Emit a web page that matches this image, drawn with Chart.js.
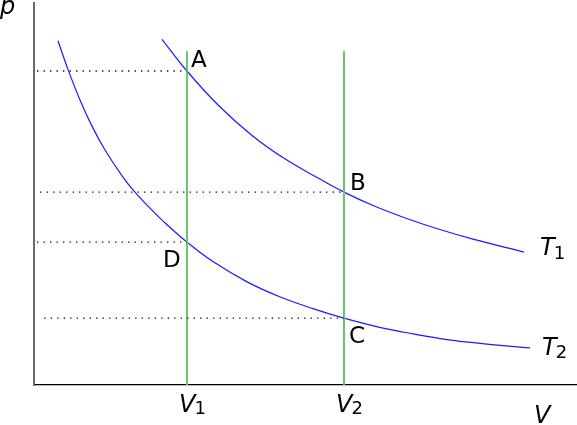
<!DOCTYPE html>
<html>
<head>
<meta charset="utf-8">
<script src="https://cdn.jsdelivr.net/npm/chart.js@4/dist/chart.umd.min.js"></script>
<style>
  html, body { margin: 0; padding: 0; background: #fff; }
  #wrap { width: 577px; height: 425px; position: relative; }
</style>
</head>
<body>
<div id="wrap"><canvas id="c"></canvas></div>
<script>
// Isotherm T1
const t1V = [2.51, 3.0, 3.61, 4.27, 4.92, 5.57, 6.08, 6.65, 7.31, 7.96, 8.61, 9.61];
const t1P = [9.05, 8.22, 7.33, 6.54, 5.92, 5.42, 5.05, 4.70, 4.36, 4.07, 3.82, 3.48];
// Isotherm T2
const t2V = [0.47, 0.67, 0.90, 1.14, 1.39, 1.73, 1.98, 2.37, 2.63, 3.0, 3.51, 4.18, 4.82, 5.47, 6.08, 6.78, 7.43, 8.10, 8.75, 9.73];
const t2P = [9.01, 8.25, 7.47, 6.77, 6.16, 5.47, 5.05, 4.50, 4.17, 3.74, 3.23, 2.70, 2.31, 2.00, 1.75, 1.51, 1.34, 1.19, 1.09, 0.97];
// Isochores
const isoV = [3.0, 6.08];
const isoLabels = ['1', '2'];
const isoTop = 8.74;
// State points
const stateNames = ['A', 'B', 'C', 'D'];
const stateV = [3.0, 6.08, 6.08, 3.0];
const stateP = [8.22, 5.05, 1.75, 3.74];
const dotStart = [0.06, 0.12, 0.2, 0.06];
const curveNames = ['1', '2'];

const zip = (xs, ys) => xs.map((x, i) => ({x: x, y: ys[i]}));

const datasets = [];
stateNames.forEach((n, i) => {
  datasets.push({
    data: [{x: dotStart[i], y: stateP[i]}, {x: stateV[i], y: stateP[i]}],
    borderColor: '#000', borderWidth: 1.3, borderDash: [1.3, 5.2], showLine: true, pointRadius: 0
  });
});
isoV.forEach(v => {
  datasets.push({
    data: [{x: v, y: 0}, {x: v, y: isoTop}],
    borderColor: 'rgb(108,196,108)', borderWidth: 2, showLine: true, pointRadius: 0
  });
});
datasets.push({data: zip(t1V, t1P), borderColor: '#1a1aff', borderWidth: 1.2, showLine: true, pointRadius: 0, tension: 0.4});
datasets.push({data: zip(t2V, t2P), borderColor: '#1a1aff', borderWidth: 1.2, showLine: true, pointRadius: 0, tension: 0.4});

const labelsPlugin = {
  id: 'labels',
  afterDatasetsDraw(chart) {
    const ctx = chart.ctx;
    const xs = chart.scales.x, ys = chart.scales.y;
    ctx.save();
    ctx.fillStyle = '#000';
    ctx.textBaseline = 'alphabetic';
    ctx.textAlign = 'left';
    const px = v => xs.getPixelForValue(v);
    const py = p => ys.getPixelForValue(p);
    // state point letters
    const off = [[4, -3.5], [6, -2], [5, 25], [-24, 25]];
    ctx.font = '23px "DejaVu Sans"';
    stateNames.forEach((n, i) => {
      ctx.fillText(n, px(stateV[i]) + off[i][0], py(stateP[i]) + off[i][1]);
    });
    const withSub = (main, sub, x, y, subDy) => {
      ctx.font = 'italic 24px "DejaVu Sans"';
      ctx.fillText(main, x, y);
      const w = ctx.measureText(main).width;
      ctx.font = '18px "DejaVu Sans"';
      ctx.fillText(sub, x + w - 1, y + subDy);
    };
    // V1, V2 under axis
    const axisY = chart.chartArea.bottom;
    isoV.forEach((v, i) => {
      withSub('V', isoLabels[i], px(v) - 8, axisY + 27, 2);
    });
    // T1, T2 at curve ends
    withSub('T', curveNames[0], px(t1V[t1V.length - 1]) + 16, py(t1P[t1P.length - 1]) + 3, 4);
    withSub('T', curveNames[1], px(t2V[t2V.length - 1]) + 12, py(t2P[t2P.length - 1]) + 7, 3);
    // axis names
    ctx.font = 'italic 24px "DejaVu Sans"';
    ctx.fillText('p', 0, 14);
    ctx.fillText('V', 534, 423);
    ctx.restore();
  }
};

new Chart(document.getElementById('c'), {
  type: 'scatter',
  data: {datasets: datasets},
  options: {
    responsive: true,
    maintainAspectRatio: false,
    animation: false,
    events: [],
    layout: {padding: {top: 3, right: 0, left: 0, bottom: 0}},
    plugins: {legend: {display: false}, tooltip: {enabled: false}},
    scales: {
      x: {
        type: 'linear', min: 0, max: 10.65,
        grid: {display: false},
        ticks: {display: false},
        border: {display: true, color: '#000', width: 1.2},
        afterFit: s => { s.height = 40; }
      },
      y: {
        type: 'linear', min: 0, max: 10,
        grid: {display: false},
        ticks: {display: false},
        border: {display: true, color: '#6a6a6a', width: 2},
        afterFit: s => { s.width = 34; }
      }
    }
  },
  plugins: [labelsPlugin]
});
</script>
</body>
</html>
